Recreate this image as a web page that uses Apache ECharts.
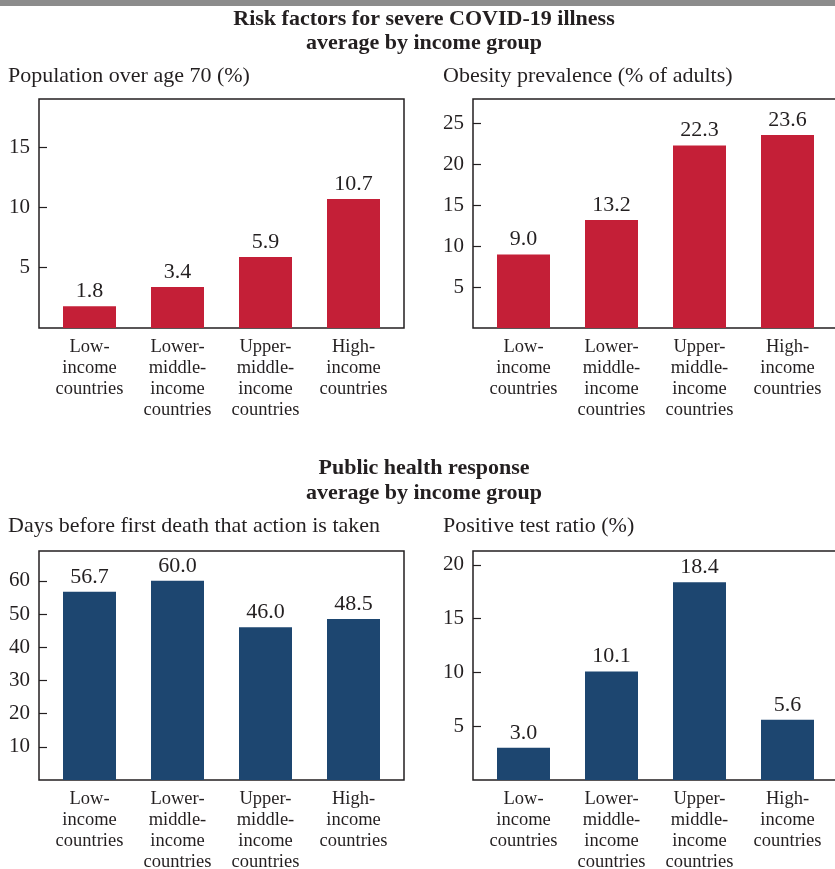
<!DOCTYPE html>
<html>
<head>
<meta charset="utf-8">
<script src="https://cdn.jsdelivr.net/npm/echarts@6/dist/echarts.min.js"></script>
<style>
  html, body { margin: 0; padding: 0; background: #fff; }
  #chart { width: 835px; height: 869px; }
</style>
</head>
<body>
<div id="chart"></div>
<script>
// income groups, same order in every panel
var categories = ['Low-\nincome\ncountries', 'Lower-\nmiddle-\nincome\ncountries', 'Upper-\nmiddle-\nincome\ncountries', 'High-\nincome\ncountries'];

// values
var popOver70 = [1.8, 3.4, 5.9, 10.7];
var obesity = [9.0, 13.2, 22.3, 23.6];
var daysBeforeDeath = [56.7, 60.0, 46.0, 48.5];
var positiveRatio = [3.0, 10.1, 18.4, 5.6];

// y axis ranges (max, tick step)
var yMax = [19, 28, 69, 21.3];
var yStep = [5, 5, 10, 5];

var subtitles = ['Population over age 70 (%)', 'Obesity prevalence (% of adults)', 'Days before first death that action is taken', 'Positive test ratio (%)'];

var red = '#c41f37';
var blue = '#1d4670';
var ink = '#231f20';
var serif = '"Liberation Serif", "DejaVu Serif", serif';

var panels = [
    {data: popOver70, color: red, left: 39, top: 99},
    {data: obesity, color: red, left: 473, top: 99},
    {data: daysBeforeDeath, color: blue, left: 39, top: 551},
    {data: positiveRatio, color: blue, left: 473, top: 551}
];

var grids = [], xAxes = [], yAxes = [], series = [];

panels.forEach(function (p, i) {
    // frame grid: carries the box and the y ticks
    grids.push({
        left: p.left, top: p.top, width: 365, height: 229,
        show: true, borderColor: ink, borderWidth: 1.5, backgroundColor: 'transparent',
        containLabel: false, outerBoundsMode: 'none'
    });
    // data grid: bars and category labels
    grids.push({
        left: p.left + 6.5, top: p.top, width: 352, height: 229,
        containLabel: false, outerBoundsMode: 'none'
    });
    var fg = i * 2, dg = i * 2 + 1;

    xAxes.push({type: 'category', gridIndex: fg, show: false, data: categories});
    yAxes.push({
        type: 'value', gridIndex: fg, min: 0, max: yMax[i], interval: yStep[i],
        axisLine: {show: false},
        axisTick: {show: true, inside: true, length: 8, lineStyle: {color: ink, width: 1.2}},
        splitLine: {show: false},
        axisLabel: {
            show: true, margin: 9, color: ink, fontFamily: serif, fontSize: 21,
            showMinLabel: false, showMaxLabel: false
        }
    });

    xAxes.push({
        type: 'category', gridIndex: dg, data: categories,
        axisLine: {show: false},
        axisTick: {show: false},
        axisLabel: {interval: 0, margin: 9, color: ink, fontFamily: serif, fontSize: 18.5, lineHeight: 21}
    });
    yAxes.push({type: 'value', gridIndex: dg, min: 0, max: yMax[i], show: false, splitLine: {show: false}});

    series.push({
        type: 'bar',
        xAxisIndex: dg, yAxisIndex: dg,
        data: p.data,
        barWidth: 53,
        itemStyle: {color: p.color},
        label: {
            show: true, position: 'top', distance: 4,
            color: ink, fontFamily: serif, fontSize: 22,
            formatter: function (d) { return d.value.toFixed(1); }
        }
    });
});

var graphics = [
    {type: 'rect', shape: {x: 0, y: 0, width: 835, height: 6}, style: {fill: '#8c8c8c'}},
    {type: 'text', x: 424, y: 31, style: {
        text: 'Risk factors for severe COVID-19 illness\naverage by income group',
        font: 'bold 22px ' + serif, fill: ink, align: 'center', verticalAlign: 'middle', lineHeight: 24
    }},
    {type: 'text', x: 424, y: 481, style: {
        text: 'Public health response\naverage by income group',
        font: 'bold 22px ' + serif, fill: ink, align: 'center', verticalAlign: 'middle', lineHeight: 25
    }}
];
var subPos = [[8, 76], [443, 76], [8, 526], [443, 526]];
subtitles.forEach(function (s, i) {
    graphics.push({type: 'text', x: subPos[i][0], y: subPos[i][1], style: {
        text: s, font: '22px ' + serif, fill: ink, align: 'left', verticalAlign: 'middle'
    }});
});

var option = {
    animation: false,
    backgroundColor: '#fff',
    grid: grids,
    xAxis: xAxes,
    yAxis: yAxes,
    series: series,
    graphic: graphics
};

var chart = echarts.init(document.getElementById('chart'));
chart.setOption(option);
</script>
</body>
</html>
